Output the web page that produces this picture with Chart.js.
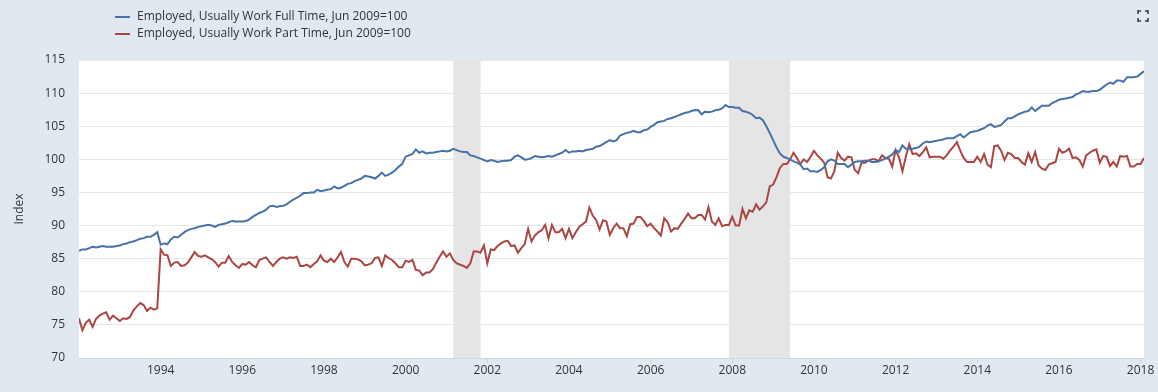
<!DOCTYPE html>
<html>
<head>
<meta charset="utf-8">
<title>Employed, Usually Work Full Time / Part Time</title>
<script src="https://cdn.jsdelivr.net/npm/chart.js@4/dist/chart.umd.min.js"></script>
<style>
    html, body { margin: 0; padding: 0; background: #e1e9f0; }
    #wrap { width: 1158px; height: 392px; }
</style>
</head>
<body>
<div id="wrap"><canvas id="chart" width="1158" height="392"></canvas></div>
<script>
// monthly data, first point Jan 1992
const startYear = 1992;

const seriesNames = [
    'Employed, Usually Work Full Time, Jun 2009=100',
    'Employed, Usually Work Part Time, Jun 2009=100'
];

const fullTime = [
    86.2, 86.4, 86.4, 86.6, 86.8, 86.7, 86.8, 86.9, 86.8, 86.8, 86.8, 86.9,
    87.0, 87.2, 87.3, 87.5, 87.6, 87.8, 88.0, 88.1, 88.3, 88.3, 88.6, 89.0,
    87.1, 87.3, 87.2, 87.9, 88.3, 88.2, 88.6, 89.0, 89.3, 89.5, 89.6, 89.8,
    89.9, 90.0, 90.1, 90.0, 89.8, 90.1, 90.2, 90.3, 90.5, 90.7, 90.6, 90.6,
    90.6, 90.7, 90.9, 91.3, 91.6, 91.9, 92.1, 92.4, 92.9, 93.0, 92.8, 92.9,
    93.0, 93.2, 93.6, 93.9, 94.2, 94.5, 94.9, 94.9, 95.0, 95.0, 95.4, 95.2,
    95.3, 95.4, 95.5, 95.9, 95.6, 95.7, 96.0, 96.3, 96.4, 96.7, 96.9, 97.1,
    97.5, 97.4, 97.3, 97.1, 97.5, 98.0, 97.5, 97.7, 98.0, 98.4, 98.9, 99.3,
    100.4, 100.6, 100.8, 101.5, 101.0, 101.2, 100.9, 101.0, 101.0, 101.1, 101.2, 101.3,
    101.2, 101.3, 101.6, 101.4, 101.2, 101.1, 101.1, 100.6, 100.5, 100.3, 100.1, 99.9,
    99.7, 99.9, 99.8, 99.6, 99.7, 99.8, 99.8, 99.9, 100.4, 100.6, 100.3, 99.95,
    100.0, 100.2, 100.5, 100.4, 100.3, 100.4, 100.5, 100.4, 100.6, 100.8, 101.0, 101.4,
    101.0, 101.2, 101.2, 101.3, 101.2, 101.4, 101.5, 101.6, 101.9, 102.0, 102.3, 102.6,
    102.9, 102.7, 102.9, 103.6, 103.8, 104.0, 104.1, 104.3, 104.1, 104.1, 104.4, 104.5,
    104.9, 105.2, 105.6, 105.7, 105.8, 106.1, 106.2, 106.4, 106.6, 106.8, 107.0, 107.1,
    107.3, 107.45, 107.4, 106.8, 107.2, 107.1, 107.2, 107.4, 107.5, 107.7, 108.2, 107.9,
    107.9, 107.8, 107.8, 107.3, 107.2, 107.0, 106.7, 106.2, 106.3, 105.9, 105.0, 104.0,
    102.9, 101.8, 100.9, 100.4, 100.2, 100.0, 99.7, 99.5, 99.2, 98.5, 98.6, 98.2,
    98.2, 98.1, 98.4, 98.8, 99.7, 100.0, 99.8, 99.3, 99.3, 99.3, 98.8, 99.2,
    99.6, 99.7, 99.7, 99.8, 99.8, 99.6, 99.6, 99.7, 99.9, 100.1, 100.4, 100.7,
    101.4, 101.1, 102.1, 101.6, 101.6, 101.6, 101.7, 101.9, 102.4, 102.7, 102.6, 102.7,
    102.8, 102.9, 103.0, 103.2, 103.2, 103.2, 103.5, 103.8, 103.3, 103.7, 104.1, 104.2,
    104.3, 104.5, 104.7, 105.1, 105.3, 104.9, 105.0, 105.2, 105.7, 106.2, 106.2, 106.5,
    106.8, 107.0, 107.2, 107.3, 107.85, 107.3, 107.7, 108.1, 108.1, 108.1, 108.5, 108.7,
    109.0, 109.1, 109.2, 109.3, 109.4, 109.8, 110.0, 110.3, 110.2, 110.2, 110.3, 110.3,
    110.5, 110.9, 111.3, 111.6, 111.4, 111.9, 111.9, 111.7, 112.4, 112.4, 112.4, 112.5,
    112.9, 113.3
];

const partTime = [
    76.0, 74.2, 75.3, 75.8, 74.7, 75.9, 76.4, 76.7, 76.9, 75.8, 76.4, 76.0,
    75.6, 76.0, 75.9, 76.2, 77.2, 77.8, 78.3, 78.0, 77.1, 77.6, 77.3, 77.5,
    86.4, 85.6, 85.5, 83.9, 84.4, 84.5, 83.9, 84.0, 84.4, 85.2, 86.0, 85.4,
    85.3, 85.5, 85.2, 84.9, 84.5, 83.8, 84.4, 84.4, 85.4, 84.5, 84.0, 83.6,
    84.2, 84.1, 84.5, 84.0, 83.7, 84.8, 85.0, 85.2, 84.5, 83.9, 84.5, 85.0,
    85.2, 85.0, 85.2, 85.1, 85.3, 83.9, 83.9, 84.1, 83.7, 84.2, 84.6, 85.5,
    84.7, 84.5, 85.0, 84.5, 85.2, 86.0, 84.5, 83.8, 85.0, 85.0, 84.9, 84.6,
    84.0, 84.1, 84.3, 85.1, 85.2, 83.9, 85.5, 85.1, 84.8, 84.3, 83.7, 83.7,
    84.7, 84.5, 84.8, 83.3, 83.2, 82.5, 82.9, 82.9, 83.4, 84.4, 85.3, 86.1,
    85.3, 85.8, 84.8, 84.3, 84.1, 83.9, 83.6, 84.3, 86.1, 86.1, 85.9, 87.0,
    84.3, 86.4, 86.3, 86.9, 87.3, 87.6, 87.7, 86.9, 87.0, 85.9, 86.6, 87.2,
    89.5, 87.6, 88.5, 89.0, 89.3, 90.1, 88.1, 90.1, 89.0, 89.0, 89.5, 88.1,
    89.5, 88.1, 89.0, 89.8, 90.2, 90.6, 92.7, 91.5, 90.8, 89.4, 90.8, 90.6,
    88.6, 89.6, 90.3, 89.6, 89.6, 88.4, 90.2, 90.3, 91.3, 91.3, 90.7, 89.9,
    90.3, 89.6, 89.1, 88.5, 91.1, 90.5, 89.1, 89.6, 89.5, 90.3, 91.0, 91.8,
    91.1, 91.1, 91.6, 91.6, 90.9, 92.8, 90.6, 90.1, 91.1, 89.9, 90.1, 90.1,
    91.3, 90.0, 90.0, 92.5, 91.1, 92.3, 92.1, 93.2, 92.4, 92.9, 93.5, 95.9,
    96.2, 97.3, 98.7, 99.3, 99.3, 100.0, 101.0, 100.2, 99.3, 100.0, 99.6, 100.4,
    101.3, 100.6, 100.1, 99.5, 97.3, 97.1, 98.2, 101.0, 100.2, 99.8, 100.4, 100.3,
    98.4, 97.9, 99.5, 99.5, 99.8, 100.0, 100.0, 99.7, 100.6, 100.2, 100.1, 98.9,
    101.4, 100.3, 98.2, 100.4, 102.3, 100.8, 100.9, 100.5, 101.1, 101.8, 100.3, 100.4,
    100.4, 100.4, 100.1, 100.6, 101.3, 101.9, 102.6, 101.3, 100.2, 99.6, 99.6, 99.6,
    100.4, 99.6, 100.8, 99.2, 98.8, 102.0, 102.1, 101.3, 99.9, 101.0, 100.8, 100.2,
    100.2, 99.6, 99.2, 100.9, 99.6, 101.1, 99.1, 98.6, 98.4, 99.2, 99.4, 99.6,
    101.6, 101.0, 101.2, 101.6, 100.2, 100.3, 99.9, 98.9, 100.6, 101.0, 101.3, 101.5,
    99.5, 100.5, 100.4, 99.0, 99.6, 98.9, 100.5, 100.4, 100.5, 98.9, 98.9, 99.3,
    99.3, 100.2
];

const xTickYears = [1994, 1996, 1998, 2000, 2002, 2004, 2006, 2008, 2010, 2012, 2014, 2016, 2018];
const yMin = 70;
const yMax = 115;
const yStep = 5;

// NBER recessions, [first month, last month]
const recessions = [
    ['2001-03', '2001-11'],
    ['2007-12', '2009-06']
];

const seriesColors = ['#4572a7', '#aa4643'];

function monthToYear(s) {
    const [y, m] = s.split('-').map(Number);
    return y + (m - 1) / 12;
}

function toPoints(values) {
    return values.map((v, i) => ({ x: startYear + i / 12, y: v }));
}

const lastX = startYear + (fullTime.length - 1) / 12;

const backgroundPlugin = {
    id: 'fredBackground',
    beforeDraw(chart) {
        const { ctx, chartArea } = chart;
        ctx.save();
        ctx.fillStyle = '#e1e9f0';
        ctx.fillRect(0, 0, chart.width, chart.height);
        ctx.fillStyle = '#ffffff';
        ctx.fillRect(chartArea.left, chartArea.top,
            chartArea.right - chartArea.left, chartArea.bottom - chartArea.top);
        ctx.restore();
    },
    beforeDatasetsDraw(chart) {
        const { ctx, chartArea } = chart;
        const xs = chart.scales.x;
        ctx.save();
        ctx.fillStyle = '#e5e5e5';
        recessions.forEach(([a, b]) => {
            const x0 = xs.getPixelForValue(monthToYear(a));
            const x1 = xs.getPixelForValue(monthToYear(b));
            ctx.fillRect(x0, chartArea.top, x1 - x0, chartArea.bottom - chartArea.top);
        });
        ctx.restore();
    }
};

const legendPlugin = {
    id: 'stackedLegend',
    afterDraw(chart) {
        const ctx = chart.ctx;
        ctx.save();
        ctx.font = "12px 'Open Sans', sans-serif";
        ctx.textBaseline = 'middle';
        seriesNames.forEach((name, i) => {
            const y = 17 + i * 17;
            ctx.strokeStyle = seriesColors[i];
            ctx.lineWidth = 2;
            ctx.beginPath();
            ctx.moveTo(115, y);
            ctx.lineTo(130, y);
            ctx.stroke();
            ctx.fillStyle = '#333333';
            ctx.fillText(name, 137, y);
        });

        // full screen icon
        ctx.strokeStyle = '#333333';
        ctx.lineWidth = 1.5;
        const l = 1138, t = 11, r = 1148, b = 21, k = 3;
        ctx.beginPath();
        ctx.moveTo(l, t + k); ctx.lineTo(l, t); ctx.lineTo(l + k, t);
        ctx.moveTo(r - k, t); ctx.lineTo(r, t); ctx.lineTo(r, t + k);
        ctx.moveTo(r, b - k); ctx.lineTo(r, b); ctx.lineTo(r - k, b);
        ctx.moveTo(l + k, b); ctx.lineTo(l, b); ctx.lineTo(l, b - k);
        ctx.stroke();
        ctx.restore();
    }
};

Chart.defaults.font.family = "'Open Sans', sans-serif";
Chart.defaults.font.size = 12;

new Chart(document.getElementById('chart'), {
    type: 'line',
    data: {
        datasets: [
            {
                label: seriesNames[0],
                data: toPoints(fullTime),
                borderColor: seriesColors[0],
                borderWidth: 2,
                pointRadius: 0,
                tension: 0
            },
            {
                label: seriesNames[1],
                data: toPoints(partTime),
                borderColor: seriesColors[1],
                borderWidth: 2,
                pointRadius: 0,
                tension: 0
            }
        ]
    },
    options: {
        responsive: false,
        animation: false,
        devicePixelRatio: 1,
        layout: {
            padding: { top: 60, right: 14, bottom: 0, left: 0 }
        },
        plugins: {
            legend: { display: false },
            tooltip: { enabled: false }
        },
        scales: {
            x: {
                type: 'linear',
                min: startYear,
                max: lastX,
                afterFit: (s) => { s.height = 34; },
                afterBuildTicks: (s) => { s.ticks = xTickYears.map(v => ({ value: v })); },
                grid: {
                    drawOnChartArea: false,
                    drawTicks: true,
                    tickLength: 5,
                    color: '#ccd6eb'
                },
                border: { display: true, color: '#ccd6eb' },
                ticks: {
                    color: '#333333',
                    padding: 0,
                    maxRotation: 0,
                    autoSkip: false,
                    callback: (v) => String(v)
                }
            },
            y: {
                min: yMin,
                max: yMax,
                afterFit: (s) => { s.width = 79; },
                grid: {
                    color: '#e6e6e6',
                    drawTicks: false
                },
                border: { display: false },
                ticks: {
                    stepSize: yStep,
                    color: '#333333',
                    padding: 14
                },
                title: {
                    display: true,
                    text: 'Index',
                    color: '#333333',
                    padding: { top: 12, bottom: 0 }
                }
            }
        }
    },
    plugins: [backgroundPlugin, legendPlugin]
});
</script>
</body>
</html>
